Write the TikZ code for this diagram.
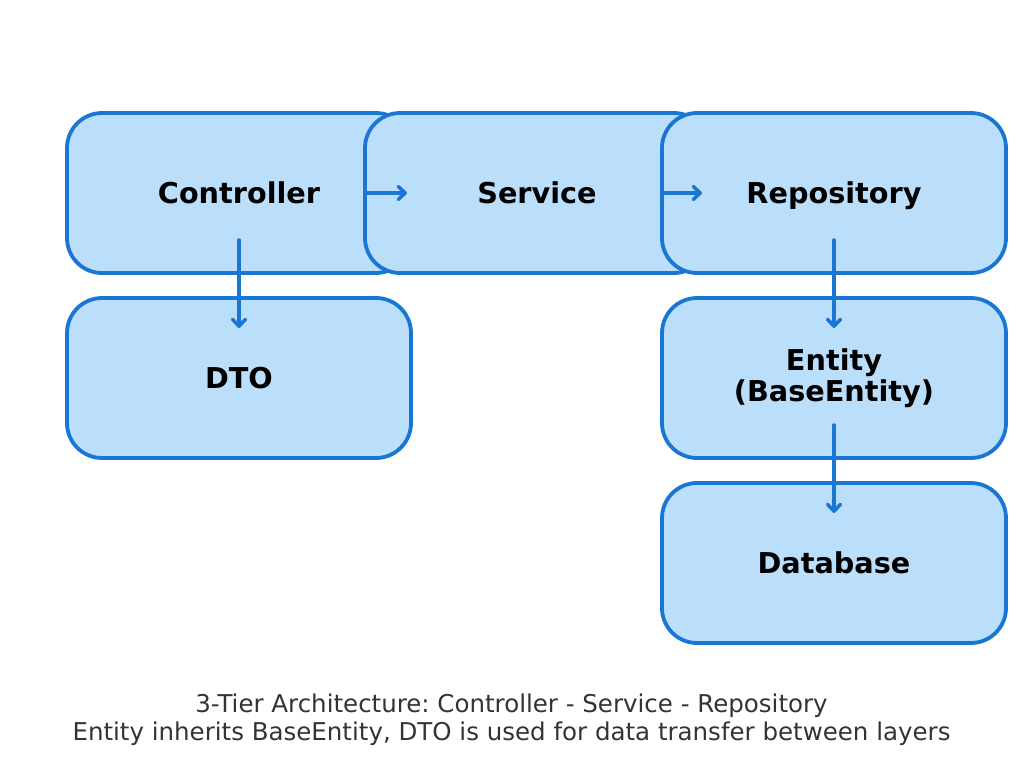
\documentclass[tikz,border=0pt]{standalone}
\usepackage{xcolor}
\usepackage{tikz}
\usepackage{fontspec}
\setmainfont{DejaVu Sans}
\frenchspacing
\usetikzlibrary{arrows.meta}
\usetikzlibrary{positioning}

\definecolor{tierblue}{HTML}{1976D2}
\definecolor{tierfill}{HTML}{BBDEFB}
\definecolor{notegray}{HTML}{333333}

\begin{document}
\begin{tikzpicture}[x=1pt,y=-1pt]
    \useasboundingbox (0,0) rectangle (1023,771);
    \begin{scope}[every node/.style={draw=tierblue,fill=tierfill,line width=3.8pt,
        rounded corners=35pt,minimum width=344pt,minimum height=160pt,
        align=center,font=\bfseries\fontsize{28.7}{31}\selectfont},
        oneline/.style={text height=21pt,text depth=0pt}]
    \node[oneline] (ctrl) at (239,193) {Controller};
    \node[oneline] (svc) at (537,193) {Service};
    \node[oneline] (repo) at (834,193) {Repository};
    \node[oneline] (dto) at (239,378) {DTO};
    \node (ent) at (834,378) {Entity\\(BaseEntity)};
    \node[oneline] (db) at (834,563) {Database};
    \end{scope}
    \begin{scope}[every edge/.style={draw=tierblue,line width=3.5pt,line cap=round},
        >={Straight Barb[length=7pt,width=13pt,line join=round,line cap=round]}]
    \path (ctrl.center) edge[->,shorten <=127pt,shorten >=130pt] (svc.center);
    \path (svc.center) edge[->,shorten <=126pt,shorten >=132pt] (repo.center);
    \path (ctrl.center) edge[->,shorten <=47pt,shorten >=50pt] (dto.center);
    \path (repo.center) edge[->,shorten <=47pt,shorten >=50pt] (ent.center);
    \path (ent.center) edge[->,shorten <=47pt,shorten >=50pt] (db.center);
    \end{scope}
    \node[text=notegray,align=center,font=\fontsize{24.5}{28}\selectfont] (note) at (511.5,720)
        {3-Tier Architecture: Controller - Service - Repository\\
         Entity inherits BaseEntity, DTO is used for data transfer between layers};
\end{tikzpicture}
\end{document}
